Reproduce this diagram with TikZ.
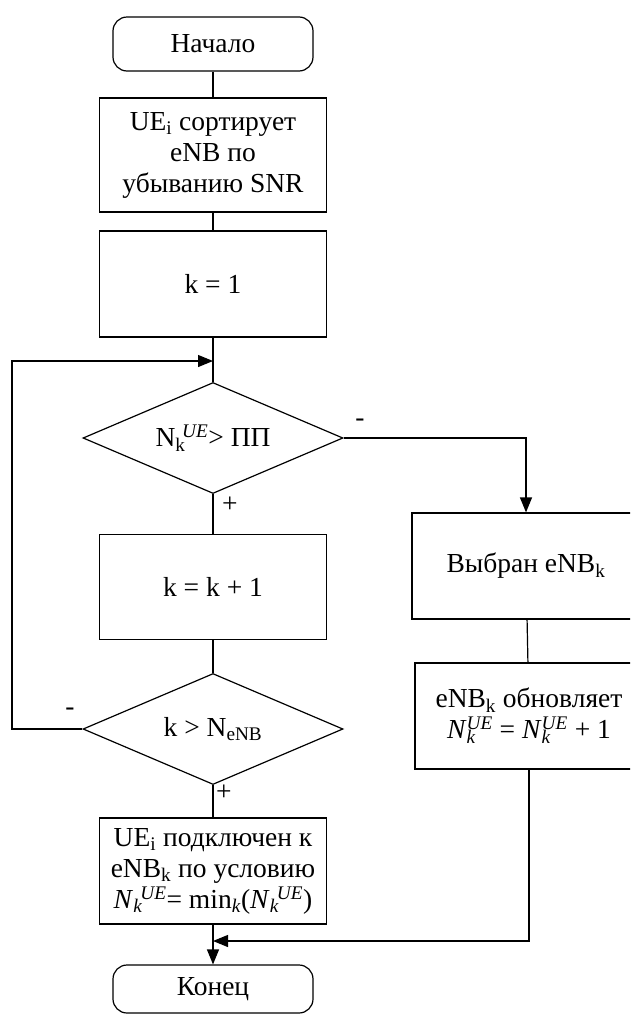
\documentclass[tikz,border=0pt]{standalone}
\usepackage{fontspec}
\setmainfont{Liberation Serif}
\usetikzlibrary{shapes.geometric,arrows.meta}
\newcommand{\Nit}{\textit{N}\rlap{\textsubscript{\textit{k}}}\textsuperscript{\textit{UE}}}
\newcommand{\Nseq}{\textit{N}\textsubscript{\textit{k}}\kern-0.08em\textsuperscript{\textit{UE}}}
\begin{document}
\begin{tikzpicture}[x=1pt,y=-1pt,
  every node/.style={font=\fontsize{27.5}{31}\selectfont},
  box/.style={draw,line width=1.2pt,minimum width=227pt,align=center,inner sep=2pt},
  term/.style={draw,line width=1.2pt,rounded corners=14pt,minimum width=200pt},
  dec/.style={draw,line width=1.2pt,diamond,shape aspect=2.34,minimum width=260pt,minimum height=111pt,inner sep=0pt},
  conn/.style={line width=1.2pt},
  arr/.style={line width=1.2pt,-{Triangle[length=15pt,width=12pt]}},
  lbl/.style={inner sep=0pt}]
\useasboundingbox (0,0) rectangle (630,1015);
\clip (0,0) rectangle (630,1015);
\node[term,minimum height=54pt] (start) at (213,44) {Начало};
\node[box,minimum height=114pt] (b1) at (213,155) {UE\textsubscript{i} сортирует\\eNB по\\убыванию SNR};
\node[box,minimum height=106pt] (b2) at (213,284) {k = 1};
\coordinate (loop) at (213,361);
\node[dec] (d1) at (213,438) {N\rlap{\textsubscript{k}}\kern0.25em\textsuperscript{\textit{UE}}> ПП};
\node[box,minimum height=105pt] (b3) at (213,587) {k = k + 1};
\node[dec] (d2) at (213,729) {k > N\textsubscript{eNB}};
\node[box,minimum height=106pt] (b4) at (213,871) {UE\textsubscript{i} подключен к\\eNB\textsubscript{k} по условию\\\Nseq= min\textsubscript{\textit{k}}(\Nseq)};
\coordinate (merge) at (213,941);
\node[term,minimum height=48pt] (end) at (213,989) {Конец};
\node[box,minimum width=228pt,minimum height=106pt] (r1) at (526,566) {Выбран eNB\textsubscript{k}};
\node[box,minimum width=228pt,minimum height=106pt] (r2) at (529,716) {eNB\textsubscript{k} обновляет\\\Nit\ = \Nit\ + 1};
\coordinate (c1) at (526,438);
\coordinate (c2) at (12,729);
\coordinate (c3) at (12,361);
\coordinate (c4) at (529,941);
\draw[conn] (start) -- (b1);
\draw[conn] (b1) -- (b2);
\draw[conn] (b2) -- (d1.north);
\draw[conn] (d1.south) -- (b3);
\draw[conn] (b3) -- (d2.north);
\draw[conn] (d2.south) -- (b4);
\draw[arr] (b4) -- (end);
\draw[arr] (d2.west) -- (c2) -- (c3) -- (loop);
\draw[arr] (d1.east) -- (c1) -- (r1.north);
\draw[conn] (r1) -- (r2);
\draw[arr] (r2.south) -- (c4) -- (merge);
\node[lbl] (m1) at (360,423) {-};
\node[lbl] (p1) at (230,505) {+};
\node[lbl] (m2) at (70,712) {-};
\node[lbl] (p2) at (224,793) {+};
\end{tikzpicture}
\end{document}
